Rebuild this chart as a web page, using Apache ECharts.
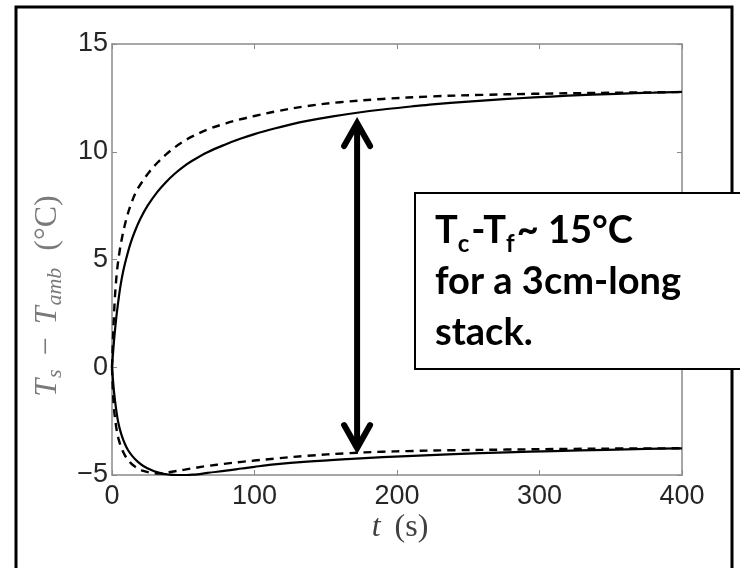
<!DOCTYPE html>
<html><head><meta charset="utf-8">
<script src="https://cdn.jsdelivr.net/npm/echarts@6/dist/echarts.min.js"></script>
<style>html,body{margin:0;padding:0;background:#fff;}#c{width:740px;height:568px;}</style>
</head><body><div id="c"></div>
<script>
// Tick values and labels
const xTicks = [0, 100, 200, 300, 400];
const xTickLabels = ['0', '100', '200', '300', '400'];
const yTicks = [-5, 0, 5, 10, 15];
const yTickLabels = ['\u22125', '0', '5', '10', '15'];

// Upper solid curve
const tUpperSolid = [0, 1, 2, 3, 4, 6, 8, 10, 13, 16, 20, 25, 32, 38, 44, 50, 56, 67, 80, 90, 100, 114, 125, 137, 155, 172, 190, 210, 225, 250, 275, 296, 320, 354, 380, 400];
const vUpperSolid = [0, 0.9, 1.65, 2.3, 2.85, 3.8, 4.5, 5.05, 5.75, 6.3, 6.9, 7.5, 8.15, 8.6, 8.98, 9.3, 9.57, 9.98, 10.35, 10.6, 10.82, 11.08, 11.26, 11.43, 11.64, 11.81, 11.96, 12.1, 12.2, 12.33, 12.44, 12.52, 12.6, 12.69, 12.74, 12.78];

// Upper dashed curve
const tUpperDashed = [0, 0.5, 1, 2, 3, 4, 5.5, 7, 9, 11, 13.5, 17, 20.6, 26, 32, 38, 44, 50, 56, 67, 80, 91, 100, 114, 137, 160, 190, 225, 260, 296, 340, 400];
const vUpperDashed = [0, 1.0, 1.85, 3.2, 4.1, 4.75, 5.45, 6.0, 6.6, 7.1, 7.6, 8.15, 8.55, 9.05, 9.5, 9.88, 10.2, 10.47, 10.7, 11.03, 11.32, 11.52, 11.66, 11.86, 12.12, 12.3, 12.45, 12.57, 12.64, 12.69, 12.73, 12.77];

// Lower solid curve
const tLowerSolid = [0, 0.7, 1.5, 3, 4.5, 6.5, 9, 11.2, 14, 18, 22, 27.6, 32, 36, 40, 45, 50, 55, 60, 67, 80, 91, 100, 114, 137, 165, 190, 207, 240, 277, 310, 347, 375, 400];
const vLowerSolid = [0, -0.6, -1.2, -2.0, -2.6, -3.1, -3.55, -3.84, -4.1, -4.38, -4.58, -4.77, -4.88, -4.95, -4.98, -5.0, -5.0, -4.99, -4.97, -4.9, -4.8, -4.7, -4.62, -4.51, -4.38, -4.26, -4.17, -4.12, -4.03, -3.95, -3.89, -3.83, -3.79, -3.76];

// Lower dashed curve
const tLowerDashed = [0, 0.7, 1.5, 3, 4.5, 6.5, 9, 11.2, 14, 18, 22, 27.6, 32, 35, 38, 42, 51, 60, 67, 80, 91, 100, 114, 137, 165, 190, 207, 240, 277, 320, 360, 400];
const vLowerDashed = [0, -1.2, -2.0, -2.8, -3.3, -3.72, -4.08, -4.3, -4.5, -4.69, -4.81, -4.9, -4.93, -4.93, -4.9, -4.85, -4.75, -4.65, -4.58, -4.47, -4.39, -4.33, -4.24, -4.11, -3.99, -3.92, -3.89, -3.85, -3.82, -3.79, -3.77, -3.76];

// Double arrow (data coordinates)
const arrowT = 172;
const arrowTop = 11.33;
const arrowBottom = -3.75;

const pair = (ts, vs) => ts.map((t, i) => [t, vs[i]]);
const AX = '#8a8a8a';
const LBL = '#262626';

const chart = echarts.init(document.getElementById('c'), null, {renderer: 'canvas'});

function xAxisCfg(pos, showLabel) {
  return {
    type: 'value', min: 0, max: 400, interval: 100, position: pos,
    axisLine: {show: true, onZero: false, lineStyle: {color: AX, width: 1.5}},
    axisTick: {show: true, inside: true, length: 5, lineStyle: {color: AX, width: 1}},
    splitLine: {show: false},
    axisLabel: {
      show: showLabel, margin: 8, fontSize: 27, fontFamily: 'Liberation Sans', color: LBL,
      formatter: v => xTickLabels[xTicks.indexOf(v)] || ''
    }
  };
}
function yAxisCfg(pos, showLabel) {
  return {
    type: 'value', min: -5, max: 15, interval: 5, position: pos,
    axisLine: {show: true, onZero: false, lineStyle: {color: AX, width: 1.5}},
    axisTick: {show: true, inside: true, length: 5, lineStyle: {color: AX, width: 1}},
    splitLine: {show: false},
    axisLabel: {
      show: showLabel, margin: 4, fontSize: 27, fontFamily: 'Liberation Sans', color: LBL,
      formatter: v => yTickLabels[yTicks.indexOf(v)] || ''
    }
  };
}

function lineSeries(data, type) {
  return {
    type: 'line', data: data, xAxisIndex: 0, yAxisIndex: 0,
    showSymbol: false, smooth: 0.35,
    lineStyle: {color: '#000', width: type === 'solid' ? 2.2 : 2.4, type: type},
    z: 3
  };
}

chart.setOption({
  animation: false,
  backgroundColor: '#fff',
  grid: {left: 112, top: 44, right: 58, bottom: 93},
  xAxis: [xAxisCfg('bottom', true), xAxisCfg('top', false)],
  yAxis: [yAxisCfg('left', true), yAxisCfg('right', false)],
  series: [
    lineSeries(pair(tUpperSolid, vUpperSolid), 'solid'),
    lineSeries(pair(tUpperDashed, vUpperDashed), [8, 6]),
    lineSeries(pair(tLowerSolid, vLowerSolid), 'solid'),
    lineSeries(pair(tLowerDashed, vLowerDashed), [8, 6])
  ]
});

const pTop = chart.convertToPixel({xAxisIndex: 0, yAxisIndex: 0}, [arrowT, arrowTop]);
const pBot = chart.convertToPixel({xAxisIndex: 0, yAxisIndex: 0}, [arrowT, arrowBottom]);
const ax = pTop[0];
const hw = 13, hh = 23;
const arrowStyle = {stroke: '#000', lineWidth: 6, lineCap: 'round', lineJoin: 'miter', fill: null};

const serif = 'Liberation Serif';
const yTitleColor = '#7a7a7a';
chart.setOption({
  graphic: [
    {type: 'rect', z: 50, shape: {x: 16, y: 7, width: 716, height: 620}, style: {fill: null, stroke: '#000', lineWidth: 3}},
    {type: 'line', z: 60, shape: {x1: ax, y1: pTop[1] + 3, x2: ax, y2: pBot[1] - 3}, style: arrowStyle},
    {type: 'polyline', z: 60, shape: {points: [[ax - hw, pTop[1] + hh], [ax, pTop[1]], [ax + hw, pTop[1] + hh]]}, style: arrowStyle},
    {type: 'polyline', z: 60, shape: {points: [[ax - hw, pBot[1] - hh], [ax, pBot[1]], [ax + hw, pBot[1] - hh]]}, style: arrowStyle},
    {type: 'rect', z: 70, shape: {x: 415, y: 193, width: 340, height: 176}, style: {fill: '#fff', stroke: '#000', lineWidth: 2}},
    {type: 'text', z: 71, x: 435, y: 205, style: {
      text: '{m|T}{s|c}{m|-T}{s|f}{m|~ 15°C}\n{m|for a 3cm-long}\n{m|stack.}',
      rich: {
        m: {fontFamily: 'Lato', fontWeight: 'bold', fontSize: 38, lineHeight: 51, fill: '#000'},
        s: {fontFamily: 'Lato', fontWeight: 'bold', fontSize: 24, padding: [27, 2, 0, 0], fill: '#000'}
      }
    }},
    {type: 'text', z: 40, x: 48, y: 296, rotation: Math.PI / 2, style: {
      text: '{i|T}{si|s}{n|\u2212}{i|T}{si|amb}{p|(°C)}',
      align: 'center', verticalAlign: 'middle',
      rich: {
        i: {fontFamily: serif, fontStyle: 'italic', fontSize: 32, fill: yTitleColor},
        si: {fontFamily: serif, fontStyle: 'italic', fontSize: 22, padding: [14, 1, 0, 1], fill: yTitleColor},
        n: {fontFamily: serif, fontSize: 32, padding: [0, 13, 0, 13], fill: yTitleColor},
        p: {fontFamily: serif, fontSize: 32, padding: [0, 0, 0, 16], fill: yTitleColor}
      }
    }},
    {type: 'text', z: 40, x: 400, y: 528, style: {
      text: '{i|t}{n|(s)}',
      align: 'center', verticalAlign: 'middle',
      rich: {
        i: {fontFamily: serif, fontStyle: 'italic', fontSize: 32, fill: '#404040'},
        n: {fontFamily: serif, fontSize: 32, padding: [0, 0, 0, 14], fill: '#404040'}
      }
    }}
  ]
});
</script>
</body></html>
